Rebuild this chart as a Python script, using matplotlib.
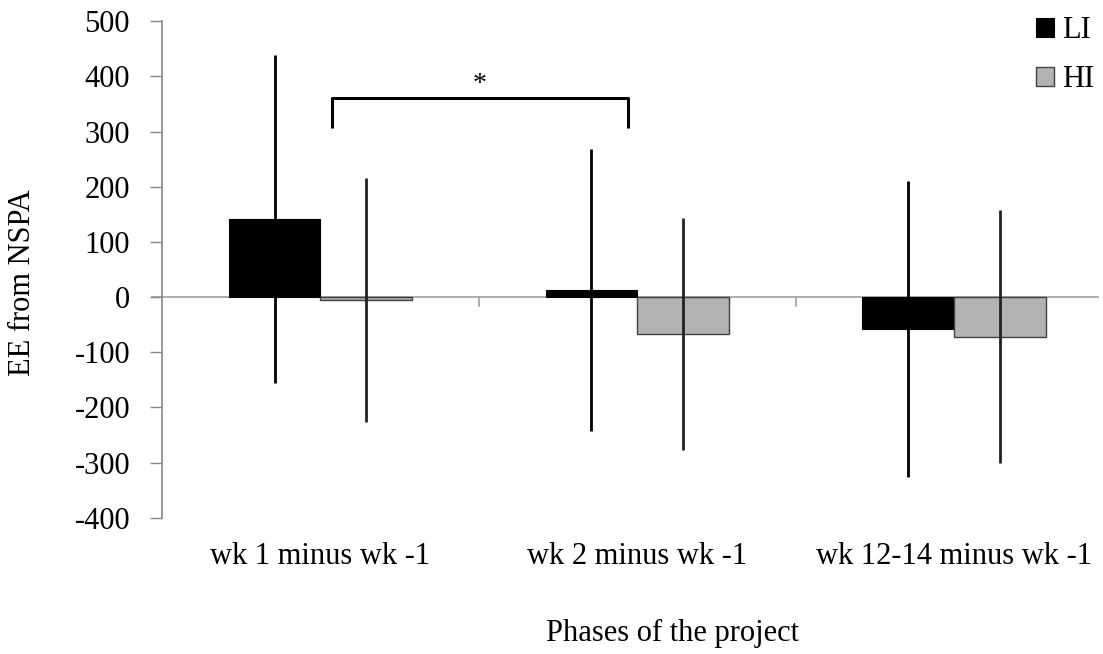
import numpy as np
import matplotlib
matplotlib.use("Agg")
import matplotlib.pyplot as plt

plt.rcParams['font.family'] = ['Liberation Serif', 'DejaVu Serif']
plt.rcParams['axes.unicode_minus'] = False

# mean change in EE from NSPA and standard deviations per phase
phases = ["wk 1 minus wk -1", "wk 2 minus wk -1", "wk 12-14 minus wk -1"]
li_mean = [142, 13, -58]
li_sd = [297, 255, 268]
hi_mean = [-5, -67, -72]
hi_sd = [221, 211, 229]

fs = 22

fig = plt.figure(figsize=(11.03, 6.54), dpi=100)
ax = fig.add_axes([162/1103, 1 - 517.7/654, (1098-162)/1103, (517.7-21.3)/654])

x = np.arange(len(phases))
w = 0.29
ax.bar(x - w/2, li_mean, w, color="black", edgecolor="black", linewidth=0.8, label="LI", zorder=2)
ax.bar(x + w/2, hi_mean, w, color="#b3b3b3", edgecolor="#404040", linewidth=1.0, label="HI", zorder=2)
ax.errorbar(x - w/2, li_mean, yerr=li_sd, fmt="none", ecolor="black", elinewidth=2, capsize=0, zorder=3)
ax.errorbar(x + w/2, hi_mean, yerr=hi_sd, fmt="none", ecolor="#222222", elinewidth=2, capsize=0, zorder=3)

ax.set_xlim(-0.5, 2.453)
ax.set_ylim(-400, 500)
ax.set_yticks(np.arange(-400, 501, 100))
ax.tick_params(axis="y", direction="out", length=9, width=1, color="#888888", labelsize=fs, pad=14)

# zero line with category separators
ax.axhline(0, color="#a0a0a0", linewidth=1.2, zorder=1, xmin=-0.011, clip_on=False)
for b in [0.5, 1.5]:
    ax.plot([b, b], [0, -17], color="#a0a0a0", linewidth=1.2, zorder=1)

ax.set_xticks([])
for xi, lab in zip(x, phases):
    ax.text(xi, -470, lab, ha="center", va="center", fontsize=fs)
ax.text(1.11, -610, "Phases of the project", ha="center", va="center", fontsize=fs)

for side in ["top", "right", "bottom"]:
    ax.spines[side].set_visible(False)
ax.spines["left"].set_color("#888888")
ax.spines["left"].set_linewidth(1.2)

ax.set_ylabel("EE from NSPA", fontsize=fs, va="center")
ax.yaxis.set_label_coords(-0.149, 0.473)

# significance bracket
ax.plot([0.036, 0.036, 0.970, 0.970], [306, 361, 361, 306], color="black", linewidth=2.2,
        solid_joinstyle="round", solid_capstyle="butt")
ax.text(0.503, 385, "*", ha="center", va="center", fontsize=fs - 2)

leg = ax.legend(loc="upper right", bbox_to_anchor=(1.009, 1.035), frameon=False, fontsize=fs,
                handlelength=0.6, handleheight=0.6, handletextpad=0.25, labelspacing=0.65,
                borderaxespad=0)

fig.savefig("out.png", dpi=100)
